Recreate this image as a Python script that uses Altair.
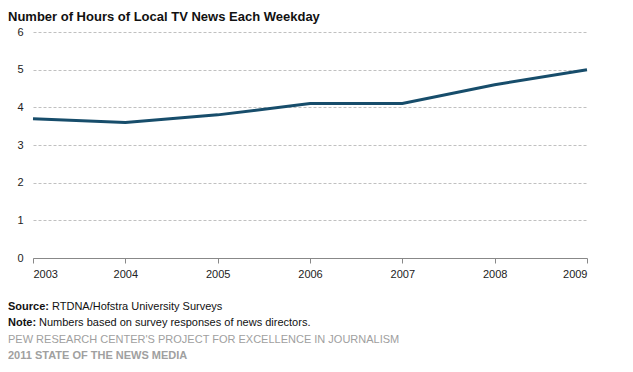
import altair as alt
import pandas as pd

years = [2003, 2004, 2005, 2006, 2007, 2008, 2009]
hours = [3.7, 3.6, 3.8, 4.1, 4.1, 4.6, 5.0]
y_ticks = [0, 1, 2, 3, 4, 5, 6]

title_text = "Number of Hours of Local TV News Each Weekday"
source_label = "Source:"
source_text = "RTDNA/Hofstra University Surveys"
note_label = "Note:"
note_text = "Numbers based on survey responses of news directors."
credit1 = "PEW RESEARCH CENTER'S PROJECT FOR EXCELLENCE IN JOURNALISM"
credit2 = "2011 STATE OF THE NEWS MEDIA"

df = pd.DataFrame({"year": years, "hours": hours})
FONT = "Liberation Sans"

line = alt.Chart(df).mark_line(color="#174d6b", strokeWidth=3).encode(
    x=alt.X("year:Q", scale=alt.Scale(domain=[2003, 2009], nice=False),
            axis=alt.Axis(values=years, format="d", title=None, grid=False,
                          domainColor="#888888", tickColor="#888888", tickSize=5,
                          labelColor="#222222", labelFontSize=11, labelFont=FONT,
                          labelPadding=5)),
    y=alt.Y("hours:Q", scale=alt.Scale(domain=[0, 6], nice=False),
            axis=alt.Axis(values=y_ticks, title=None, domain=False, ticks=False,
                          grid=True, gridColor="#c0c0c0", gridDash=[3, 2],
                          labelColor="#222222", labelFontSize=11, labelFont=FONT,
                          labelPadding=10)),
)

def txt(s, x, y, bold=False, color="#111111", size=11, baseline="middle"):
    return alt.Chart(pd.DataFrame({"t": [s]})).mark_text(
        align="left", baseline=baseline, font=FONT, fontSize=size,
        fontWeight="bold" if bold else "normal", color=color
    ).encode(text="t:N", x=alt.value(x), y=alt.value(y))

L = -25
footer = (
    txt(title_text, L, -11, bold=True, size=13, baseline="alphabetic")
    + txt(source_label, L, 275, bold=True)
    + txt(source_text, L + 44, 275)
    + txt(note_label, L, 291, bold=True)
    + txt(note_text, L + 31, 291)
    + txt(credit1, L, 308, color="#a0a0a0")
    + txt(credit2, L, 324, bold=True, color="#a0a0a0")
)

chart = (line + footer).properties(
    width=554, height=226,
    autosize=alt.AutoSizeParams(type="none"),
    padding={"left": 25, "top": 24, "right": 38, "bottom": 106},
).configure_view(stroke=None)

chart.save("out.html", embed_options={"renderer": "svg", "actions": False})
